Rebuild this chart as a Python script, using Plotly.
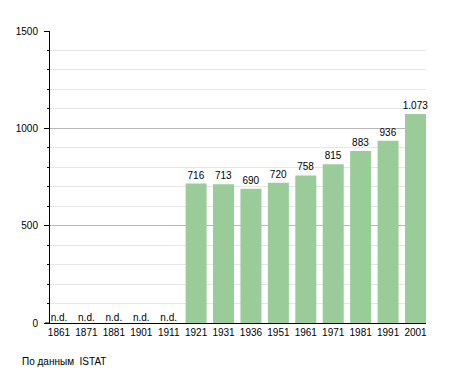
import plotly.graph_objects as go

years = ["1861", "1871", "1881", "1901", "1911", "1921", "1931", "1936",
         "1951", "1961", "1971", "1981", "1991", "2001"]
population = [None, None, None, None, None, 716, 713, 690, 720, 758, 815, 883, 936, 1073]
y_ticks = [0, 500, 1000, 1500]
source_text = "По данным\u00a0 ISTAT"

FONT = "Liberation Sans, Arial, sans-serif"

bar_text = [f"{v:,}".replace(",", ".") if v is not None else "" for v in population]
nd_x = [y for y, v in zip(years, population) if v is None]
nd_y = [0 for v in population if v is None]

fig = go.Figure()
fig.add_trace(go.Bar(
    x=years, y=population,
    marker=dict(color="#99cc99", line=dict(width=0)),
    text=bar_text, textposition="outside", constraintext="none",
    textfont=dict(family=FONT, size=10, color="#000000"),
    cliponaxis=False,
))
fig.add_trace(go.Scatter(
    x=nd_x, y=nd_y, mode="text", text=["n.d."] * len(nd_x),
    textposition="top center",
    textfont=dict(family=FONT, size=10, color="#000000"),
    cliponaxis=False, hoverinfo="skip",
))

fig.update_layout(
    width=455, height=373,
    margin=dict(l=50, r=29, t=31, b=50),
    paper_bgcolor="white", plot_bgcolor="white",
    showlegend=False, bargap=0.234,
    font=dict(family=FONT, size=10, color="#000000"),
)
fig.update_xaxes(
    type="category", range=[-0.328, 13.383],
    showline=True, linecolor="#000000", linewidth=1,
    ticks="", showgrid=False, tickfont=dict(size=10),
)
fig.update_yaxes(
    range=[0, 1500], tickvals=y_ticks, ticktext=[str(v) for v in y_ticks],
    showline=True, linecolor="#000000", linewidth=1,
    ticks="outside", ticklen=5, tickcolor="#000000",
    showgrid=True, gridcolor="#b8b8b8", gridwidth=1,
    zeroline=False, ticklabelstandoff=4,
    minor=dict(dtick=100, showgrid=True, gridcolor="#e6e6e6", gridwidth=1,
               ticks="outside", ticklen=2, tickcolor="#000000"),
    tickfont=dict(size=10),
)
fig.add_shape(type="line", xref="paper", yref="paper",
              x0=-5 / 376, x1=0, y0=0, y1=0,
              line=dict(color="#000000", width=1))
fig.add_annotation(text=source_text, xref="paper", yref="paper",
                   x=-30 / 376, y=-38 / 292, xanchor="left", yanchor="middle",
                   showarrow=False, font=dict(family=FONT, size=10, color="#000000"))

fig.write_html("out.html", config={"displayModeBar": False})

with open("out.html", "r", encoding="utf-8") as f:
    html = f.read()
html = html.replace("<head>", "<head><style>html,body{margin:0;padding:0;overflow:hidden;}</style>", 1)
with open("out.html", "w", encoding="utf-8") as f:
    f.write(html)
